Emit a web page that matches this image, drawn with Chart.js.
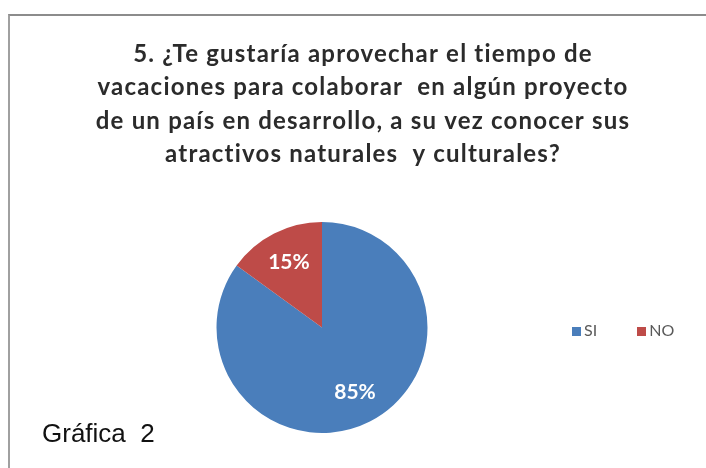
<!DOCTYPE html>
<html>
<head>
<meta charset="utf-8">
<script src="https://cdn.jsdelivr.net/npm/chart.js@4"></script>
<style>
  html, body { margin: 0; padding: 0; background: #fff; }
  #wrap { position: relative; width: 706px; height: 468px; overflow: hidden; }
  #frame { position: absolute; left: 8px; top: 14px; width: 720px; height: 480px;
           border-top: 2px solid #8c8c8c; border-left: 2px solid #a0a0a0; }
  #legend { position: absolute; left: 572px; top: 320px; white-space: nowrap;
            font: 16px Lato, "Open Sans", sans-serif; color: #595959; }
  #legend span.item { margin-right: 40px; }
  #legend span.box { display: inline-block; width: 9px; height: 9px; margin-right: 3px; }
  #note { position: absolute; left: 42px; top: 418px; font: 26px "Liberation Sans", Arial, sans-serif; color: #111; }
</style>
</head>
<body>
<div id="wrap">
  <div id="frame"></div>
  <canvas id="pie" width="706" height="468"></canvas>
  <div id="legend"></div>
  <div id="note">Gráfica&nbsp; 2</div>
</div>
<script>
const titleLines = [
  '5. ¿Te gustaría aprovechar el tiempo de',
  'vacaciones para colaborar  en algún proyecto',
  'de un país en desarrollo, a su vez conocer sus',
  'atractivos naturales  y culturales?'
];
const labels = ['SI', 'NO'];
const values = [85, 15];
const colors = ['#4a7ebb', '#be4b48'];

// title drawn across the full width (chart.js title would be squeezed by the padding)
const bigTitle = {
  id: 'bigTitle',
  afterDraw(chart) {
    const ctx = chart.ctx;
    ctx.save();
    ctx.font = 'bold 24px Lato, "Open Sans", sans-serif';
    ctx.letterSpacing = '1.2px';
    ctx.fillStyle = '#2b2b2b';
    ctx.textAlign = 'center';
    ctx.textBaseline = 'alphabetic';
    titleLines.forEach((t, i) => ctx.fillText(t, 363, 62 + i * 33.3));
    ctx.restore();
  }
};

// labels inside the slices, a bit beyond half radius like Excel does
const sliceLabels = {
  id: 'sliceLabels',
  afterDatasetsDraw(chart) {
    const ctx = chart.ctx;
    const meta = chart.getDatasetMeta(0);
    ctx.save();
    ctx.font = 'bold 21px Lato, "Open Sans", sans-serif';
    ctx.fillStyle = '#fff';
    ctx.textAlign = 'center';
    ctx.textBaseline = 'middle';
    meta.data.forEach((arc, i) => {
      const p = arc.getProps(['x', 'y', 'startAngle', 'endAngle', 'outerRadius'], true);
      const a = (p.startAngle + p.endAngle) / 2;
      const r = p.outerRadius * 0.69;
      ctx.fillText(values[i] + '%', p.x + Math.cos(a) * r, p.y + Math.sin(a) * r);
    });
    ctx.restore();
  }
};

new Chart(document.getElementById('pie'), {
  type: 'pie',
  data: {
    labels,
    datasets: [{ data: values, backgroundColor: colors, borderWidth: 0 }]
  },
  options: {
    responsive: false,
    animation: false,
    layout: { padding: { left: 216, right: 278, top: 222, bottom: 35 } },
    plugins: {
      legend: { display: false },
      tooltip: { enabled: false },
      title: { display: false }
    }
  },
  plugins: [sliceLabels, bigTitle]
});

// legend row
const legend = document.getElementById('legend');
legend.innerHTML = labels.map((l, i) =>
  `<span class="item"><span class="box" style="background:${colors[i]}"></span>${l}</span>`).join('');
</script>
</body>
</html>
